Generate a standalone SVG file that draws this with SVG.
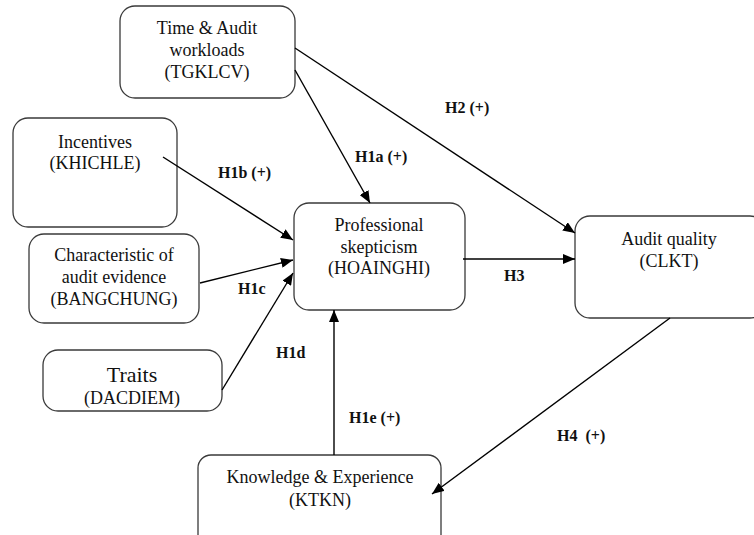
<svg xmlns="http://www.w3.org/2000/svg" width="754" height="535" viewBox="0 0 754 535">
<defs>
<style>
.box{fill:#fff;stroke:#3a3a3a;stroke-width:1.3}
.t{font-family:"Liberation Serif","Times New Roman",serif;font-size:18px;fill:#111;text-anchor:middle}
.big{font-size:22px}
.lbl{font-family:"Liberation Serif","Times New Roman",serif;font-size:16px;font-weight:bold;fill:#111}
.c{stroke:#000;stroke-width:1.4;fill:none;marker-end:url(#ah)}
</style>
<marker id="ah" viewBox="0 0 12 10" refX="12" refY="5" markerWidth="12" markerHeight="10" markerUnits="userSpaceOnUse" orient="auto">
<path d="M0,0 L12,5 L0,10 z" fill="#000"/>
</marker>
</defs>
<rect width="754" height="535" fill="#fff"/>
<g id="TGKLCV">
<rect class="box" x="120" y="6" width="175" height="92" rx="15"/>
<text class="t" x="207" y="34">Time &amp; Audit</text>
<text class="t" x="207" y="56">workloads</text>
<text class="t" x="207" y="78">(TGKLCV)</text>
</g>
<g id="KHICHLE">
<rect class="box" x="13" y="118" width="164" height="109" rx="15"/>
<text class="t" x="95" y="148">Incentives</text>
<text class="t" x="95" y="169">(KHICHLE)</text>
</g>
<g id="BANGCHUNG">
<rect class="box" x="29" y="234" width="170" height="89" rx="15"/>
<text class="t" x="114" y="261">Characteristic of</text>
<text class="t" x="114" y="283">audit evidence</text>
<text class="t" x="114" y="305">(BANGCHUNG)</text>
</g>
<g id="DACDIEM">
<rect class="box" x="43" y="350" width="179" height="61" rx="15"/>
<text class="t big" x="132" y="382">Traits</text>
<text class="t" x="132" y="404">(DACDIEM)</text>
</g>
<g id="HOAINGHI">
<rect class="box" x="294" y="203" width="171" height="107" rx="15"/>
<text class="t" x="379" y="231">Professional</text>
<text class="t" x="379" y="253">skepticism</text>
<text class="t" x="379" y="274">(HOAINGHI)</text>
</g>
<g id="CLKT">
<rect class="box" x="575" y="216" width="190" height="102" rx="15"/>
<text class="t" x="669" y="245">Audit quality</text>
<text class="t" x="669" y="267">(CLKT)</text>
</g>
<g id="KTKN">
<rect class="box" x="198" y="455" width="243" height="95" rx="13"/>
<text class="t" x="320" y="483">Knowledge &amp; Experience</text>
<text class="t" x="320" y="506">(KTKN)</text>
</g>
<g id="connectors">
<line class="c" x1="295" y1="70" x2="370" y2="203"/>
<line class="c" x1="295" y1="48" x2="575" y2="233"/>
<line class="c" x1="163" y1="157" x2="293" y2="240"/>
<line class="c" x1="200" y1="283" x2="293" y2="260"/>
<line class="c" x1="222" y1="390" x2="293" y2="273"/>
<line class="c" x1="334" y1="455" x2="334" y2="310"/>
<line class="c" x1="463" y1="259" x2="575" y2="259"/>
<line class="c" x1="670" y1="318" x2="432" y2="494"/>
<text class="lbl" x="445" y="113">H2 (+)</text>
<text class="lbl" x="355" y="162">H1a (+)</text>
<text class="lbl" x="218" y="178">H1b (+)</text>
<text class="lbl" x="238" y="294">H1c</text>
<text class="lbl" x="276" y="358">H1d</text>
<text class="lbl" x="504" y="281">H3</text>
<text class="lbl" x="349" y="423">H1e (+)</text>
<text class="lbl" x="557" y="441" xml:space="preserve">H4  (+)</text>
</g>
</svg>
